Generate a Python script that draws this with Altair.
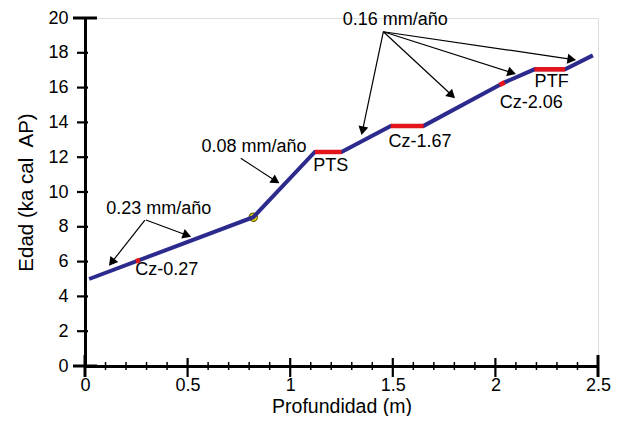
import math
import altair as alt
import pandas as pd

# ---- data ----
depth = [0.02, 0.82, 1.12, 1.25, 1.49, 1.65, 2.02, 2.045, 2.19, 2.34, 2.475]
age = [5.0, 8.55, 12.3, 12.3, 13.8, 13.8, 16.15, 16.3, 17.05, 17.05, 17.85]

hiatus_x1 = [0.248, 1.12, 1.49, 2.02, 2.19]
hiatus_x2 = [0.268, 1.25, 1.65, 2.045, 2.34]
hiatus_y1 = [6.02, 12.3, 13.8, 16.15, 17.05]
hiatus_y2 = [6.10, 12.3, 13.8, 16.3, 17.05]

dated_x = [0.82]
dated_y = [8.55]

label_text = ["Cz-0.27", "PTS", "Cz-1.67", "Cz-2.06", "PTF",
              "0.23 mm/año", "0.08 mm/año", "0.16 mm/año"]
label_x = [0.399, 1.198, 1.633, 2.175, 2.274, 0.359, 0.824, 1.512]
label_y = [5.52, 11.51, 12.89, 15.10, 16.34, 9.02, 12.6, 19.89]

arrow_x1 = [0.292, 0.297, 0.759, 1.454, 1.454, 1.454, 1.454]
arrow_y1 = [8.39, 8.39, 11.94, 19.21, 19.21, 19.21, 19.21]
arrow_x2 = [0.117, 0.517, 0.947, 1.348, 1.803, 2.100, 2.393]
arrow_y2 = [5.76, 7.43, 10.50, 13.28, 15.39, 16.78, 17.59]

x_major = [0.5, 1.0, 1.5, 2.0]
x_minor = [0.1, 0.2, 0.3, 0.4, 0.6, 0.7, 0.8, 0.9, 1.1, 1.2, 1.3, 1.4,
           1.6, 1.7, 1.8, 1.9, 2.1, 2.2, 2.3, 2.4]
x_ends = [0.0, 2.5]
y_major = [2, 4, 6, 8, 10, 12, 14, 16, 18]
y_ends = [0, 20]
x_labels = [0, 0.5, 1, 1.5, 2, 2.5]
y_labels = [0, 2, 4, 6, 8, 10, 12, 14, 16, 18, 20]

x_title = "Profundidad (m)"
y_title = "Edad (ka cal\u00a0 AP)"

# ---- layout ----
W, H = 513, 348
XMAX, YMAX = 2.5, 20
sx, sy = W / XMAX, H / YMAX
FONT = "Liberation Sans"
BLUE = "#2D2A8E"
RED = "#E3141C"

xs = alt.Scale(domain=[0, XMAX], nice=False, zero=False)
ys = alt.Scale(domain=[0, YMAX], nice=False, zero=False)

ax_x = alt.Axis(values=x_labels, format="~g", ticks=False, grid=False,
                domain=True, domainWidth=3, domainColor="black",
                labelFont=FONT, labelFontSize=18, labelColor="black",
                labelPadding=10, labelOverlap=False, labelFlush=False,
                title=x_title, titleFont=FONT, titleFontSize=19.5,
                titleFontWeight="normal", titleColor="black",
                titleBaseline="alphabetic", titleY=46.5)
ax_y = alt.Axis(values=y_labels, ticks=False, grid=False,
                domain=True, domainWidth=3, domainColor="black",
                labelFont=FONT, labelFontSize=18, labelColor="black",
                labelPadding=17, labelOverlap=False, labelFlush=False,
                title=y_title, titleFont=FONT, titleFontSize=20.5,
                titleFontWeight="normal", titleColor="black",
                titlePadding=11)

def X(field):
    return alt.X(field, scale=xs, axis=ax_x)

def Y(field):
    return alt.Y(field, scale=ys, axis=ax_y)

line_df = pd.DataFrame({"x": depth, "y": age})
hiatus_df = pd.DataFrame({"x": hiatus_x1, "x2": hiatus_x2, "y": hiatus_y1, "y2": hiatus_y2})
dated_df = pd.DataFrame({"x": dated_x, "y": dated_y})
label_df = pd.DataFrame({"x": label_x, "y": label_y, "t": label_text})

# arrows: shaft ends at the centre of the head, head is rotated along the shaft
rows = []
back = 4.3
for x1, y1, x2, y2 in zip(arrow_x1, arrow_y1, arrow_x2, arrow_y2):
    dx = (x2 - x1) * sx
    dy = -(y2 - y1) * sy
    L = math.hypot(dx, dy)
    f = back / L
    cx = x2 - (x2 - x1) * f
    cy = y2 - (y2 - y1) * f
    ang = math.degrees(math.atan2(dx, -dy)) % 360
    rows.append({"x1": x1, "y1": y1, "cx": cx, "cy": cy, "ang": ang})
arrow_df = pd.DataFrame(rows)

main = alt.Chart(line_df).mark_line(color=BLUE, strokeWidth=4, strokeCap="butt").encode(
    x=X("x:Q"), y=Y("y:Q"))

dated = alt.Chart(dated_df).mark_point(shape="circle", size=70, filled=True,
                                       fill="#F2E300", stroke="#6B6400",
                                       strokeWidth=1.2, opacity=1).encode(
    x=X("x:Q"), y=Y("y:Q"))

hiatus = alt.Chart(hiatus_df).mark_rule(color=RED, strokeWidth=4.5, strokeCap="butt").encode(
    x=X("x:Q"), x2="x2:Q", y=Y("y:Q"), y2="y2:Q")

labels = alt.Chart(label_df).mark_text(font=FONT, fontSize=18, color="black",
                                       align="center", baseline="middle").encode(
    x=X("x:Q"), y=Y("y:Q"), text="t:N")

shafts = alt.Chart(arrow_df).mark_rule(color="black", strokeWidth=1.2).encode(
    x=X("x1:Q"), y=Y("y1:Q"), x2="cx:Q", y2="cy:Q")

heads = alt.Chart(arrow_df).mark_point(shape="triangle-up", size=100, filled=True,
                                       color="black", opacity=1).encode(
    x=X("cx:Q"), y=Y("cy:Q"), angle=alt.Angle("ang:Q", scale=None))

def xticks(vals, y_top, y_bot, w):
    return alt.Chart(pd.DataFrame({"v": vals})).mark_rule(color="black", strokeWidth=w).encode(
        x=X("v:Q"), y=alt.value(y_top), y2=alt.value(y_bot))

def yticks(vals, x_left, x_right, w):
    return alt.Chart(pd.DataFrame({"v": vals})).mark_rule(color="black", strokeWidth=w).encode(
        y=Y("v:Q"), x=alt.value(x_left), x2=alt.value(x_right))

ticks = [
    xticks(x_major, H - 8, H + 11, 2.2),
    xticks(x_minor, H - 4, H + 4, 1.5),
    xticks(x_ends, H - 11, H + 11, 3),
    yticks(y_major, -8, 3, 2.2),
    yticks(y_ends, -12, 12, 3),
]

chart = alt.layer(*ticks, dated, main, hiatus, shafts, heads, labels).properties(
    width=W, height=H,
    autosize=alt.AutoSizeParams(type="none"),
    padding={"left": 77, "top": 10, "right": 13, "bottom": 50},
).configure_view(stroke=None).configure(background="white")

chart.save("out.html", embed_options={"renderer": "svg", "actions": False})
